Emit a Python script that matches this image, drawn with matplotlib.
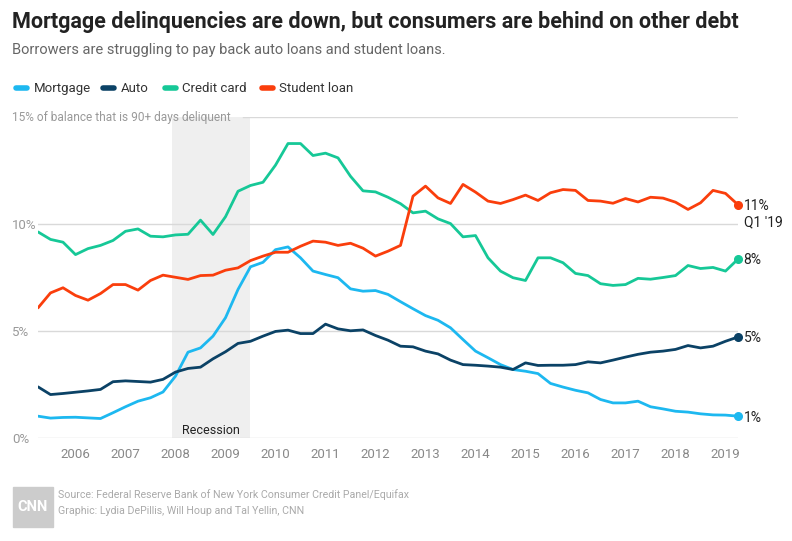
import matplotlib
matplotlib.use("Agg")
import matplotlib.pyplot as plt
from matplotlib.patches import Rectangle
from matplotlib.lines import Line2D

# ---------------- data ----------------
quarters = [2005.25 + 0.25 * i for i in range(57)]  # Q1 2005 ... Q1 2019

mortgage = [1.02, 0.93, 0.96, 0.97, 0.94, 0.91, 1.18, 1.46, 1.72, 1.88,
            2.15, 2.89, 4.01, 4.21, 4.76, 5.62, 6.94, 8.00, 8.21, 8.80,
            8.93, 8.42, 7.80, 7.64, 7.49, 6.97, 6.86, 6.89, 6.71, 6.37,
            6.04, 5.72, 5.50, 5.15, 4.60, 4.06, 3.75, 3.43, 3.20, 3.12,
            3.01, 2.55, 2.38, 2.23, 2.11, 1.80, 1.64, 1.64, 1.72, 1.46,
            1.36, 1.25, 1.21, 1.13, 1.08, 1.07, 1.02]

auto = [2.39, 2.03, 2.08, 2.14, 2.20, 2.27, 2.63, 2.67, 2.64, 2.61,
        2.74, 3.08, 3.25, 3.31, 3.70, 4.03, 4.42, 4.52, 4.76, 4.98,
        5.04, 4.88, 4.88, 5.32, 5.10, 5.01, 5.05, 4.79, 4.57, 4.29,
        4.26, 4.06, 3.93, 3.64, 3.43, 3.40, 3.36, 3.31, 3.20, 3.51,
        3.39, 3.40, 3.40, 3.43, 3.56, 3.51, 3.64, 3.78, 3.91, 4.01,
        4.06, 4.14, 4.32, 4.21, 4.29, 4.52, 4.72]

credit_card = [9.63, 9.28, 9.15, 8.57, 8.85, 9.00, 9.23, 9.66, 9.77, 9.43,
               9.40, 9.49, 9.52, 10.18, 9.51, 10.34, 11.53, 11.80, 11.95, 12.75,
               13.76, 13.76, 13.20, 13.31, 13.09, 12.23, 11.55, 11.50, 11.25, 10.95,
               10.52, 10.60, 10.24, 10.02, 9.40, 9.46, 8.42, 7.80, 7.49, 7.36,
               8.42, 8.42, 8.19, 7.69, 7.59, 7.21, 7.13, 7.17, 7.46, 7.42,
               7.50, 7.59, 8.06, 7.92, 7.97, 7.80, 8.36]

student_loan = [6.08, 6.78, 7.02, 6.66, 6.44, 6.75, 7.17, 7.17, 6.91, 7.36,
                7.61, 7.51, 7.41, 7.59, 7.61, 7.84, 7.95, 8.29, 8.50, 8.68,
                8.68, 8.96, 9.20, 9.15, 9.00, 9.10, 8.87, 8.50, 8.73, 9.00,
                11.30, 11.77, 11.22, 10.96, 11.85, 11.49, 11.07, 10.96, 11.14, 11.35,
                11.10, 11.46, 11.61, 11.57, 11.10, 11.07, 10.97, 11.19, 11.03, 11.25,
                11.21, 11.02, 10.68, 10.99, 11.57, 11.43, 10.90]

series_names = ["Mortgage", "Auto", "Credit card", "Student loan"]
end_labels = ["1%", "5%", "8%", "11%"]
year_ticks = list(range(2006, 2020))
y_ticks = [0, 5, 10]
y_tick_labels = ["0%", "5%", "10%"]
recession = (2007.92, 2009.5)

colors = ["#1db8f0", "#0b4266", "#16c897", "#fa3e0c"]

# ---------------- figure ----------------
W, H = 792, 541
fig = plt.figure(figsize=(W / 100, H / 100), dpi=100)
fig.patch.set_facecolor("white")

FONT = ["Roboto", "DejaVu Sans"]


def fx(x):
    return x / W


def fy(y):
    return 1 - y / H


ax = fig.add_axes([fx(38), fy(438), 700 / W, 321 / H])
ax.set_xlim(2005.25, 2019.25)
ax.set_ylim(0, 15)
for s in ax.spines.values():
    s.set_visible(False)
ax.set_facecolor("none")

ax.axvspan(recession[0], recession[1], color="#efefef", zorder=0, lw=0)
for yv in y_ticks:
    ax.axhline(yv, color="#d9d9d9", lw=1, zorder=1)
ax.axhline(15, xmin=(243 - 38) / 700, xmax=1, color="#d9d9d9", lw=1, zorder=1)

data = [mortgage, auto, credit_card, student_loan]
for vals, c, name in zip(data, colors, series_names):
    ax.plot(quarters, vals, color=c, lw=2.0, solid_joinstyle="round",
            solid_capstyle="round", zorder=3, label=name)
    ax.plot([quarters[-1]], [vals[-1]], "o", color=c, ms=5.5, zorder=4,
            clip_on=False)

# end labels
for vals, lab in zip(data, end_labels):
    ax.annotate(lab, (quarters[-1], vals[-1]), xytext=(4, -1),
                textcoords="offset points", va="center", ha="left",
                fontsize=10, color="#222222", family=FONT,
                annotation_clip=False)
ax.annotate("Q1 '19", (quarters[-1], student_loan[-1]), xytext=(4, -13),
            textcoords="offset points", va="center", ha="left",
            fontsize=10, color="#222222", family=FONT,
            annotation_clip=False)

ax.text((recession[0] + recession[1]) / 2, 0.33, "Recession", ha="center",
        va="center", fontsize=9, color="#222222", family=FONT)

# ticks
ax.set_xticks(year_ticks)
ax.set_xticklabels([str(y) for y in year_ticks], family=FONT)
ax.tick_params(axis="x", length=0, pad=7, labelsize=9.5, labelcolor="#888888")
ax.set_yticks(y_ticks)
ax.set_yticklabels(y_tick_labels, family=FONT)
ax.tick_params(axis="y", length=0, pad=26 * 0.72, labelsize=9.5,
               labelcolor="#999999")
for t in ax.get_yticklabels():
    t.set_horizontalalignment("left")

# titles
fig.text(fx(12), fy(22), "Mortgage delinquencies are down, but consumers are behind on other debt",
         fontsize=15.5, fontweight="bold", color="#222222", va="center",
         ha="left", family=FONT)
fig.text(fx(12), fy(50), "Borrowers are struggling to pay back auto loans and student loans.",
         fontsize=10.5, color="#666666", va="center", ha="left", family=FONT)
fig.text(fx(12), fy(117), "15% of balance that is 90+ days deliquent",
         fontsize=8.6, color="#999999", va="center", ha="left", family=FONT)

# legend (manual placement)
swatch_x = [14, 101, 163, 260]
text_x = [34, 121, 182, 279]
for sx, tx, c, name in zip(swatch_x, text_x, colors, series_names):
    fig.add_artist(Line2D([fx(sx + 2), fx(sx + 13)], [fy(88), fy(88)],
                          transform=fig.transFigure, color=c, lw=4,
                          solid_capstyle="round"))
    fig.text(fx(tx), fy(88), name, fontsize=9.5, color="#333333",
             va="center", ha="left", family=FONT)

# footer
fig.patches.append(Rectangle((fx(13), fy(527)), 40 / W, 40 / H,
                             transform=fig.transFigure, color="#cccccc",
                             zorder=1))
fig.text(fx(33), fy(507), "CNN", color="white", fontsize=10.5, fontweight="bold",
         ha="center", va="center", family=FONT)
fig.text(fx(58), fy(495), "Source: Federal Reserve Bank of New York Consumer Credit Panel/Equifax",
         fontsize=7.7, color="#aaaaaa", va="center", ha="left", family=FONT)
fig.text(fx(58), fy(511), "Graphic: Lydia DePillis, Will Houp and Tal Yellin, CNN",
         fontsize=7.7, color="#aaaaaa", va="center", ha="left", family=FONT)

fig.savefig("out.png", dpi=100)
